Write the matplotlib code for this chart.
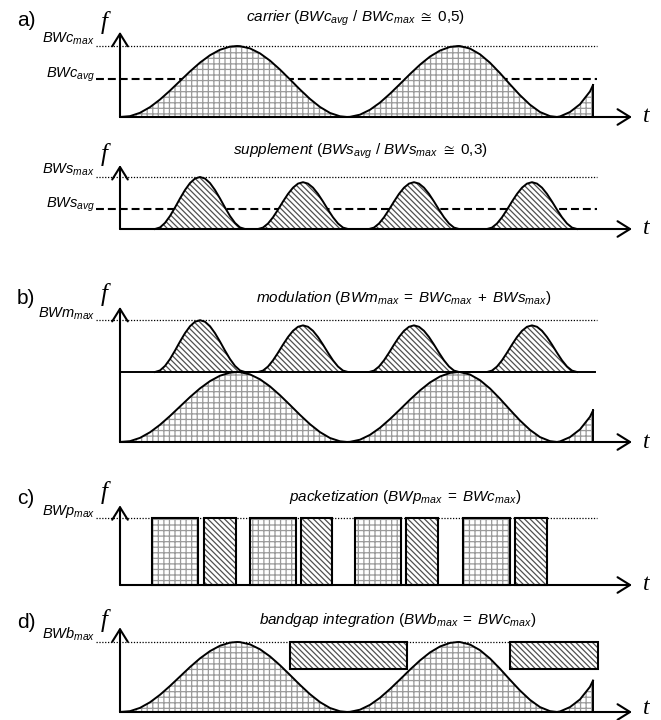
import matplotlib.pyplot as plt

plt.rcParams['font.family'] = ['Liberation Sans', 'DejaVu Sans']
plt.rcParams['mathtext.fontset'] = 'custom'
plt.rcParams['mathtext.it'] = 'Liberation Sans:italic'
plt.rcParams['mathtext.rm'] = 'Liberation Sans'
plt.rcParams['mathtext.sf'] = 'Liberation Sans'
plt.rcParams['mathtext.fallback'] = 'stixsans'
plt.rcParams['hatch.linewidth'] = 0.9

W, H = 661, 720

# carrier bandwidth over time (normalised to BWc_max)
carrier_t = [0, 1, 2, 3, 4, 5, 6, 7, 8, 9, 10, 11, 11.7,
             12, 13, 14, 15, 16, 17, 18, 19, 20, 21, 22, 22.7,
             23, 24, 25, 26, 27, 28, 29, 30, 31, 32, 33, 33.8,
             34, 35, 36, 37, 38, 39, 40, 41, 42, 43, 43.7,
             44, 45, 46, 47, 47.3]
carrier_f = [0.0, 0.012, 0.059, 0.139, 0.246, 0.372, 0.507, 0.642, 0.766, 0.870, 0.947, 0.991, 1.0,
             0.998, 0.966, 0.896, 0.794, 0.668, 0.529, 0.387, 0.254, 0.141, 0.057, 0.010, 0.0,
             0.002, 0.033, 0.102, 0.203, 0.328, 0.465, 0.605, 0.737, 0.851, 0.936, 0.987, 1.0,
             0.999, 0.964, 0.883, 0.764, 0.618, 0.460, 0.307, 0.173, 0.070, 0.012, 0.0,
             0.008, 0.07, 0.18, 0.36, 0.45]
carrier_avg = 0.53

# supplement: one bump profile, repeated at these centres
bump_dt = [-4.5, -4, -3.5, -3, -2.5, -2, -1.5, -1, -0.5, 0, 0.5, 1, 1.5, 2, 2.5, 3, 3.5, 4, 4.5]
bump_f = [0, 0.030, 0.117, 0.25, 0.413, 0.587, 0.75, 0.883, 0.970, 1.0,
          0.970, 0.883, 0.75, 0.587, 0.413, 0.25, 0.117, 0.030, 0]
supp_centers = [8.0, 18.3, 29.4, 41.2]
supp_peaks = [1.0, 0.9, 0.9, 0.9]
supp_avg = 0.38

# modulation: supplement stacked on top of carrier max
mod_base = 1.0
mod_supp_scale = 0.74

# packetization
packet_grid = [(3.2, 7.8), (13.0, 17.6), (23.5, 28.1), (34.3, 39.0)]
packet_hatch = [(8.4, 11.6), (18.1, 21.2), (28.6, 31.8), (39.5, 42.7)]
packet_h = 1.0

# bandgap integration boxes
gap_boxes = [(17.0, 28.7), (39.0, 47.8)]
gap_low = 0.61

supp_t, supp_f = [], []
for c, p in zip(supp_centers, supp_peaks):
    supp_t += [c + d for d in bump_dt]
    supp_f += [p * v for v in bump_f]

GRID = '#9a9a9a'
DIAG = '#505050'
DIAG_HATCH = '\\' * 6
LVL_X0, LVL_X1 = -2.4, 47.7

fig = plt.figure(figsize=(W / 100, H / 100), dpi=100)


def txt(x, y, s, **kw):
    fig.text(x / W, 1 - y / H, s, **kw)


def panel(top, bottom, base, scale, arrow_top, letter=None, letter_y=None, f_y=None):
    ax = fig.add_axes([0, 1 - bottom / H, 1, (bottom - top) / H])
    ax.set_xlim(-12, (W - 120) / 10)
    ax.set_ylim(-(bottom - base) / scale, (base - top) / scale)
    ax.axis('off')
    head = '->,head_length=0.45,head_width=0.28'
    ax.annotate('', xy=(0, arrow_top), xytext=(0, 0),
                arrowprops=dict(arrowstyle=head, lw=1.5, color='k', shrinkA=0, shrinkB=0, mutation_scale=20),
                zorder=5)
    ax.annotate('', xy=(51.2, 0), xytext=(0, 0),
                arrowprops=dict(arrowstyle=head, lw=1.5, color='k', shrinkA=0, shrinkB=0, mutation_scale=20),
                zorder=5)
    txt(646, min(base, 708), 't', family='Liberation Serif', style='italic', fontsize=17, ha='center', va='center')
    txt(104, f_y, 'f', family='Liberation Serif', style='italic', fontsize=18, ha='center', va='center')
    if letter:
        txt(26, letter_y, letter, fontsize=15, ha='center', va='center')
    return ax


def level(ax, y, label, ls, dy):
    style = (0, (1, 1.3)) if ls == 'dot' else (0, (3.8, 1.9))
    lw = 0.9 if ls == 'dot' else 1.5
    ax.plot([LVL_X0, LVL_X1], [y, y], color='k', ls=style, lw=lw, zorder=1)
    ax.annotate(label, xy=(-2.5, y), xytext=(0, dy), textcoords='offset pixels',
                ha='right', va='baseline', fontsize=10.5)


def draw_carrier(ax):
    ax.fill_between(carrier_t, carrier_f, 0, facecolor='white', edgecolor=GRID, hatch='+++', lw=0, zorder=2)
    ax.plot(carrier_t, carrier_f, color='k', lw=1.4, zorder=3, solid_joinstyle='round')
    ax.plot([carrier_t[-1], carrier_t[-1]], [0, carrier_f[-1]], color='k', lw=1.4, zorder=3)


TFS = 11

# a) carrier
ax = panel(0, 135, 117, 71, 1.20, 'a)', 20, 22)
level(ax, 1.0, r'$BWc_{max}$', 'dot', 3)
level(ax, carrier_avg, r'$BWc_{avg}$', 'dash', 2)
draw_carrier(ax)
txt(356, 18, r'$carrier\ (BWc_{avg}\ /\ BWc_{max}\ \cong$ 0,5)', fontsize=TFS, ha='center', va='center')

# supplement
ax = panel(135, 260, 229, 52, 1.23, f_y=154)
level(ax, 1.0, r'$BWs_{max}$', 'dot', 3)
level(ax, supp_avg, r'$BWs_{avg}$', 'dash', 2)
ax.fill_between(supp_t, supp_f, 0, facecolor='white', edgecolor=DIAG, hatch=DIAG_HATCH, lw=0, zorder=2)
ax.plot(supp_t, supp_f, color='k', lw=1.4, zorder=3)
txt(360, 151, r'$supplement\ (BWs_{avg}\ /\ BWs_{max}\ \cong$ 0,3)', fontsize=TFS, ha='center', va='center')

# b) modulation
ax = panel(260, 460, 442, 70, 1.93, 'b)', 298, 294)
mod_f = [mod_base + mod_supp_scale * v for v in supp_f]
level(ax, mod_base + mod_supp_scale * max(supp_peaks), r'$BWm_{max}$', 'dot', 3)
draw_carrier(ax)
ax.plot([0, 47.5], [mod_base, mod_base], color='k', lw=1.4, zorder=3)
ax.fill_between(supp_t, mod_f, mod_base, facecolor='white', edgecolor=DIAG, hatch=DIAG_HATCH, lw=0, zorder=2)
ax.plot(supp_t, mod_f, color='k', lw=1.4, zorder=3)
txt(404, 298, r'$modulation\ (BWm_{max}\;=\;BWc_{max}\;+\;BWs_{max})$', fontsize=TFS, ha='center', va='center')

# c) packetization
ax = panel(460, 595, 585, 67, 1.19, 'c)', 498, 493)
level(ax, packet_h, r'$BWp_{max}$', 'dot', 3)
for boxes, hatch, hc in [(packet_grid, '+++', GRID), (packet_hatch, DIAG_HATCH, DIAG)]:
    x0 = [a for a, b in boxes]
    wd = [b - a for a, b in boxes]
    ax.bar(x0, packet_h, wd, align='edge', color='white', edgecolor=hc, hatch=hatch, lw=0, zorder=2)
    ax.bar(x0, packet_h, wd, align='edge', fill=False, edgecolor='k', lw=1.5, zorder=3)
txt(405, 497, r'$packetization\ (BWp_{max}\;=\;BWc_{max})$', fontsize=TFS, ha='center', va='center')

# d) bandgap integration
ax = panel(595, 720, 712, 70, 1.21, 'd)', 622, 620)
level(ax, 1.0, r'$BWb_{max}$', 'dot', 3)
draw_carrier(ax)
x0 = [a for a, b in gap_boxes]
wd = [b - a for a, b in gap_boxes]
ax.bar(x0, 1.0 - gap_low, wd, bottom=gap_low, align='edge', color='white', edgecolor=DIAG,
       hatch=DIAG_HATCH, lw=0, zorder=2)
ax.bar(x0, 1.0 - gap_low, wd, bottom=gap_low, align='edge', fill=False, edgecolor='k', lw=1.5, zorder=3)
txt(398, 620, r'$bandgap\ integration\ (BWb_{max}\;=\;BWc_{max})$', fontsize=TFS, ha='center', va='center')

fig.savefig('out.png', dpi=100, facecolor='white')
